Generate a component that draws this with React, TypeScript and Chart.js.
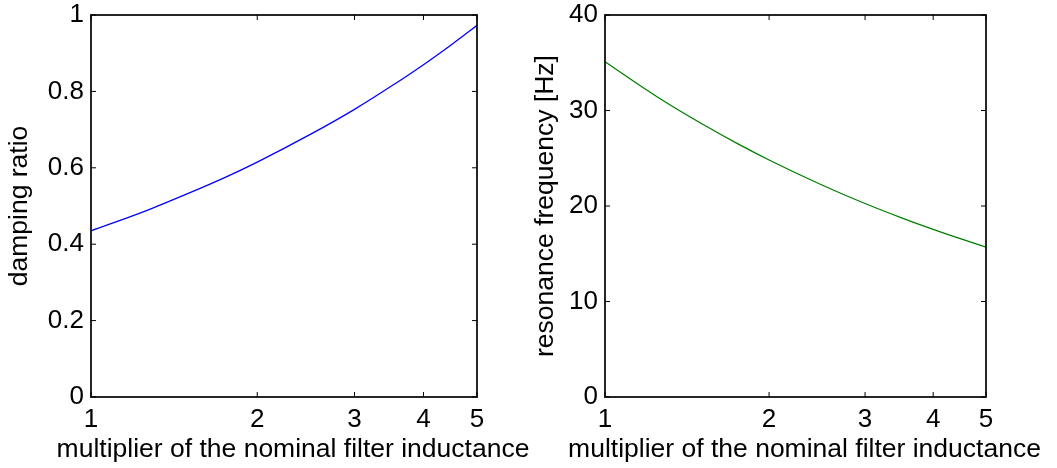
import React, { useEffect, useRef } from 'react';
import { Chart, registerables } from 'chart.js';

Chart.register(...registerables);

// ---- data ----
const inductanceMultiplier = [1, 1.25, 1.5, 1.75, 2, 2.5, 3, 3.5, 4, 4.5, 5];
const dampingRatio = [0.435, 0.486, 0.533, 0.575, 0.615, 0.688, 0.753, 0.814, 0.87, 0.923, 0.973];
const resonanceFrequency = [35.1, 31.39, 28.66, 26.53, 24.82, 22.2, 20.26, 18.76, 17.55, 16.55, 15.7];
const xTickValues = [1, 2, 3, 4, 5];
const dampingTickValues = [0, 0.2, 0.4, 0.6, 0.8, 1];
const frequencyTickValues = [0, 10, 20, 30, 40];
const xAxisTitle = 'multiplier of the nominal filter inductance';
const leftYAxisTitle = 'damping ratio';
const rightYAxisTitle = 'resonance frequency [Hz]';

const FONT = "'Liberation Sans', Arial, Helvetica, sans-serif";
const FONT_SIZE = 26;
const TITLE_SIZE = 26.5;

const matlabAxesPlugin = {
  id: 'matlabAxes',
  afterDatasetsDraw(chart: any) {
    const { ctx, chartArea } = chart;
    const { left, right, top, bottom } = chartArea;
    const xs = chart.scales.x;
    const ys = chart.scales.y;
    const tl = 5;
    ctx.save();
    ctx.strokeStyle = '#000';
    ctx.lineWidth = 1;
    ctx.beginPath();
    xs.ticks.forEach((t: any) => {
      const px = xs.getPixelForValue(t.value);
      ctx.moveTo(px, bottom);
      ctx.lineTo(px, bottom - tl);
      ctx.moveTo(px, top);
      ctx.lineTo(px, top + tl);
    });
    ys.ticks.forEach((t: any) => {
      const py = ys.getPixelForValue(t.value);
      ctx.moveTo(left, py);
      ctx.lineTo(left + tl, py);
      ctx.moveTo(right, py);
      ctx.lineTo(right - tl, py);
    });
    ctx.stroke();
    ctx.lineWidth = 1.7;
    ctx.strokeRect(left, top, right - left, bottom - top);

    // x axis title (drawn without Chart.js' maxWidth squeeze)
    ctx.fillStyle = '#000';
    ctx.font = `${TITLE_SIZE}px ${FONT}`;
    ctx.textAlign = 'center';
    ctx.textBaseline = 'middle';
    ctx.fillText(xAxisTitle, (xs.left + xs.right) / 2 + 9, 450);
    ctx.restore();
  },
};

type PanelProps = {
  values: number[];
  color: string;
  yTicks: number[];
  yTitle: string;
  width: number;
  yAxisWidth: number;
  rightPad: number;
  yTitlePad: number;
};

function Panel(p: PanelProps) {
  const ref = useRef<HTMLCanvasElement | null>(null);
  useEffect(() => {
    if (!ref.current) return;
    const points = inductanceMultiplier.map((x, i) => ({ x, y: p.values[i] }));
    const chart = new Chart(ref.current, {
      type: 'line',
      data: {
        datasets: [
          {
            data: points,
            borderColor: p.color,
            borderWidth: 1.3,
            pointRadius: 0,
            cubicInterpolationMode: 'monotone',
            fill: false,
          },
        ],
      },
      options: {
        responsive: false,
        animation: false,
        devicePixelRatio: 1,
        layout: { padding: { top: 15, right: p.rightPad, left: 0, bottom: 0 } },
        plugins: { legend: { display: false }, tooltip: { enabled: false } },
        scales: {
          x: {
            type: 'logarithmic',
            min: xTickValues[0],
            max: xTickValues[xTickValues.length - 1],
            grid: { display: false, drawTicks: false },
            border: { display: false },
            afterBuildTicks: (scale: any) => {
              scale.ticks = xTickValues.map((v) => ({ value: v }));
            },
            afterFit: (scale: any) => {
              scale.height = 71;
              scale.paddingLeft = 0;
              scale.paddingRight = 0;
            },
            ticks: {
              autoSkip: false,
              maxRotation: 0,
              padding: 7,
              color: '#000',
              font: { family: FONT, size: FONT_SIZE },
              callback: (v: any) => String(v),
            },
            title: { display: false },
          },
          y: {
            type: 'linear',
            min: p.yTicks[0],
            max: p.yTicks[p.yTicks.length - 1],
            grid: { display: false, drawTicks: false },
            border: { display: false },
            afterBuildTicks: (scale: any) => {
              scale.ticks = p.yTicks.map((v) => ({ value: v }));
            },
            afterFit: (scale: any) => {
              scale.width = p.yAxisWidth;
              scale.paddingTop = 0;
              scale.paddingBottom = 0;
            },
            ticks: {
              padding: 7,
              color: '#000',
              font: { family: FONT, size: FONT_SIZE },
              callback: (v: any) => String(v),
            },
            title: {
              display: true,
              text: p.yTitle,
              color: '#000',
              font: { family: FONT, size: TITLE_SIZE },
              padding: { top: p.yTitlePad, bottom: 0 },
            },
          },
        },
      },
      plugins: [matlabAxesPlugin],
    } as any);
    return () => chart.destroy();
  }, []);
  return (
    <canvas
      ref={ref}
      width={p.width}
      height={468}
      style={{ width: p.width, height: 468, display: 'block' }}
    />
  );
}

export default function App() {
  return (
    <div style={{ position: 'absolute', left: 0, top: 0, width: 1057, height: 468, background: '#fff' }}>
      <div style={{ position: 'absolute', left: 0, top: 0 }}>
        <Panel
          values={dampingRatio}
          color="#0000ff"
          yTicks={dampingTickValues}
          yTitle={leftYAxisTitle}
          width={560}
          yAxisWidth={91}
          rightPad={560 - 477}
          yTitlePad={4}
        />
      </div>
      <div style={{ position: 'absolute', left: 530, top: 0 }}>
        <Panel
          values={resonanceFrequency}
          color="#007f00"
          yTicks={frequencyTickValues}
          yTitle={rightYAxisTitle}
          width={527}
          yAxisWidth={75}
          rightPad={71}
          yTitlePad={0}
        />
      </div>
    </div>
  );
}
